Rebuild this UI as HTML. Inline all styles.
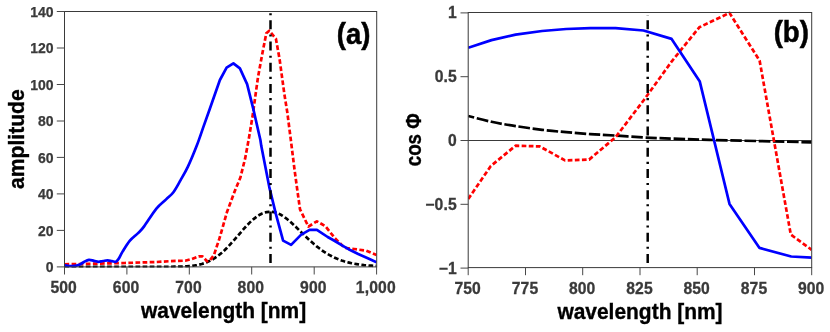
<!DOCTYPE html>
<html><head><meta charset="utf-8"><title>figure</title>
<style>html,body{margin:0;padding:0;background:#fff;}svg{display:block;will-change:transform;}text{font-family:"Liberation Sans",sans-serif;font-weight:bold;}.tl{font-size:15.7px;letter-spacing:0.15px;fill:#3a3a3a;stroke:#3a3a3a;stroke-width:0.3px;}.ts{font-size:14px;fill:#3a3a3a;stroke:#3a3a3a;stroke-width:0.25px;}.al{font-size:22px;fill:#000;stroke:#000;stroke-width:0.35px;}.pl{font-size:29px;fill:#000;stroke:#000;stroke-width:0.5px;}</style>
</head><body>
<svg width="830" height="332" viewBox="0 0 830 332">
<rect width="830" height="332" fill="#fff"/>
<defs><clipPath id="ca"><rect x="64.5" y="9.5" width="312.2" height="257.9"/></clipPath>
<clipPath id="cb"><rect x="468.2" y="10.5" width="343.5" height="257.1"/></clipPath></defs>
<g clip-path="url(#ca)" fill="none" stroke-linejoin="round">
<polyline points="64.5,266.8 66.9,266.8 69.4,266.8 71.9,266.8 74.4,266.8 76.9,266.8 79.4,266.8 81.9,266.8 84.4,266.8 86.9,266.8 89.4,266.8 91.9,266.8 94.4,266.8 96.9,266.8 99.4,266.8 101.9,266.8 104.4,266.8 106.9,266.8 109.4,266.8 111.9,266.8 114.4,266.8 116.9,266.8 119.4,266.8 121.9,266.8 124.4,266.8 126.9,266.8 129.4,266.8 131.9,266.8 134.4,266.8 136.9,266.8 139.4,266.8 141.9,266.8 144.4,266.8 146.9,266.8 149.4,266.8 151.9,266.8 154.3,266.8 156.8,266.8 159.3,266.8 161.8,266.8 164.3,266.8 166.8,266.8 169.3,266.8 171.8,266.8 174.3,266.7 176.8,266.7 179.3,266.6 181.8,266.6 184.3,266.5 186.8,266.3 189.3,266.1 191.8,265.9 194.3,265.5 196.8,265.1 199.3,264.6 201.8,264.0 204.3,263.2 206.8,262.2 209.3,261.1 211.8,259.8 214.3,258.4 216.8,256.7 219.3,254.8 221.8,252.7 224.3,250.5 226.8,248.0 229.3,245.4 231.8,242.7 234.3,239.9 236.8,237.0 239.3,234.1 241.8,231.2 244.2,228.4 246.7,225.7 249.2,223.1 251.7,220.7 254.2,218.6 256.7,216.7 259.2,215.0 261.7,213.7 264.2,212.7 266.7,212.1 269.2,211.8 271.7,211.8 274.2,212.1 276.7,212.9 279.2,213.9 281.7,215.3 284.2,216.9 286.7,218.8 289.2,220.8 291.7,223.0 294.2,225.3 296.7,227.7 299.2,230.2 301.7,232.7 304.2,235.1 306.7,237.5 309.2,239.9 311.7,242.1 314.2,244.3 316.7,246.4 319.2,248.3 321.7,250.2 324.2,251.9 326.7,253.5 329.2,254.9 331.7,256.2 334.1,257.5 336.6,258.6 339.1,259.6 341.6,260.5 344.1,261.3 346.6,262.0 349.1,262.6 351.6,263.2 354.1,263.7 356.6,264.1 359.1,264.5 361.6,264.8 364.1,265.1 366.6,265.3 369.1,265.6 371.6,265.7 374.1,265.9 376.6,266.0" stroke="#000" stroke-width="2.7" stroke-dasharray="4.7 2.4"/>
<polyline points="64.5,264.3 125.0,263.0 156.4,262.0 170.8,261.1 185.2,260.7 191.9,259.0 198.7,256.4 202.5,256.4 207.1,261.3 209.6,260.7 213.9,255.2 217.2,245.1 219.0,240.0 223.0,226.1 227.0,212.0 229.8,204.5 235.2,190.0 240.4,177.5 245.2,158.2 248.8,138.9 252.4,117.2 258.0,77.2 262.2,54.3 266.3,33.3 269.3,30.8 275.9,38.7 279.5,58.6 284.4,94.3 287.3,112.4 291.0,141.3 294.6,170.2 297.3,190.0 300.0,209.3 308.4,226.6 316.9,221.3 325.3,226.1 334.9,238.2 344.6,247.8 354.2,249.0 366.3,250.7 376.6,255.1" stroke="#f00" stroke-width="2.7" stroke-dasharray="4.7 2.4"/>
<path d="M64.5,265.4 C65.1,265.5 66.8,265.8 68.0,265.9 C69.2,266.0 70.6,266.2 72.0,266.1 C73.4,266.1 75.2,265.9 76.5,265.6 C77.8,265.3 78.8,265.0 80.0,264.4 C81.2,263.8 82.5,262.8 84.0,262.0 C85.5,261.2 87.2,260.0 88.9,259.8 C90.6,259.6 92.4,260.5 94.0,260.8 C95.6,261.1 97.1,261.8 98.6,261.8 C100.1,261.8 101.5,261.2 103.0,261.0 C104.5,260.8 106.0,260.4 107.5,260.4 C109.0,260.4 110.6,261.0 112.0,261.2 C113.4,261.4 114.8,262.2 115.9,261.8 C117.0,261.4 117.4,260.7 118.5,259.0 C119.6,257.3 120.8,254.5 122.7,251.4 C124.6,248.3 127.3,243.7 129.9,240.6 C132.5,237.5 135.9,235.3 138.3,232.9 C140.7,230.5 141.3,230.2 144.3,226.1 C147.3,222.0 152.8,213.0 156.4,208.6 C160.0,204.2 163.3,202.1 166.1,199.4 C168.9,196.7 171.0,195.4 173.4,192.2 C175.8,189.0 178.2,184.3 180.6,180.1 C183.0,175.9 185.1,172.6 187.8,166.9 C190.5,161.2 194.0,152.8 196.6,146.1 C199.2,139.4 201.3,132.9 203.4,126.9 C205.5,120.9 207.5,115.4 209.4,110.0 L214.9,94.3 L219.9,80.0 L226.6,67.7 L233.4,63.4 L239.9,68.4 L247.1,84.1 L253.1,108.2 L260.4,140.0 L261.3,146.1 L269.3,187.1 L275.9,214.1 L283.1,240.6 L291.1,244.9 L301.2,234.6 L309.6,229.8 L316.9,229.8 L327.7,237.0 L333.1,240.0 L343.7,246.3 L348.6,249.2 L358.2,254.0 L367.8,258.3 L376.6,262.2" stroke="#00f" stroke-width="2.7"/>
<line x1="270.5" y1="262.9" x2="270.5" y2="11.5" stroke="#000" stroke-width="2.5" stroke-dasharray="9 5.1 2.1 5.03"/>
</g>
<rect x="64.5" y="11.5" width="312.2" height="255.4" fill="none" stroke="#3a3a3a" stroke-width="1"/>
<line x1="56.8" y1="266.9" x2="64.5" y2="266.9" stroke="#484848" stroke-width="1"/>
<text class="ts" x="53.5" y="271.9" text-anchor="end">0</text>
<line x1="56.8" y1="230.4" x2="64.5" y2="230.4" stroke="#484848" stroke-width="1"/>
<text class="ts" x="53.5" y="236.0" text-anchor="end">20</text>
<line x1="56.8" y1="193.9" x2="64.5" y2="193.9" stroke="#484848" stroke-width="1"/>
<text class="ts" x="53.5" y="199.0" text-anchor="end">40</text>
<line x1="56.8" y1="157.4" x2="64.5" y2="157.4" stroke="#484848" stroke-width="1"/>
<text class="ts" x="53.5" y="162.6" text-anchor="end">60</text>
<line x1="56.8" y1="121.0" x2="64.5" y2="121.0" stroke="#484848" stroke-width="1"/>
<text class="ts" x="53.5" y="126.0" text-anchor="end">80</text>
<line x1="56.8" y1="84.5" x2="64.5" y2="84.5" stroke="#484848" stroke-width="1"/>
<text class="ts" x="53.5" y="89.6" text-anchor="end">100</text>
<line x1="56.8" y1="48.0" x2="64.5" y2="48.0" stroke="#484848" stroke-width="1"/>
<text class="ts" x="53.5" y="53.0" text-anchor="end">120</text>
<line x1="56.8" y1="11.5" x2="64.5" y2="11.5" stroke="#484848" stroke-width="1"/>
<text class="ts" x="53.5" y="16.7" text-anchor="end">140</text>
<line x1="64.5" y1="266.9" x2="64.5" y2="274.5" stroke="#484848" stroke-width="1"/>
<text class="tl" x="63.7" y="293.0" text-anchor="middle">500</text>
<line x1="126.9" y1="266.9" x2="126.9" y2="274.5" stroke="#484848" stroke-width="1"/>
<text class="tl" x="126.1" y="293.0" text-anchor="middle">600</text>
<line x1="189.3" y1="266.9" x2="189.3" y2="274.5" stroke="#484848" stroke-width="1"/>
<text class="tl" x="188.5" y="293.0" text-anchor="middle">700</text>
<line x1="251.7" y1="266.9" x2="251.7" y2="274.5" stroke="#484848" stroke-width="1"/>
<text class="tl" x="250.9" y="293.0" text-anchor="middle">800</text>
<line x1="314.2" y1="266.9" x2="314.2" y2="274.5" stroke="#484848" stroke-width="1"/>
<text class="tl" x="313.4" y="293.0" text-anchor="middle">900</text>
<line x1="376.6" y1="266.9" x2="376.6" y2="274.5" stroke="#484848" stroke-width="1"/>
<text class="tl" x="375.8" y="293.0" text-anchor="middle">1,000</text>
<text class="al" x="223.6" y="317.9" text-anchor="middle" textLength="165.2" lengthAdjust="spacingAndGlyphs">wavelength [nm]</text>
<text class="al" transform="translate(23.8,139.1) rotate(-90)" text-anchor="middle" textLength="99.6" lengthAdjust="spacingAndGlyphs">amplitude</text>
<text class="pl" x="353.6" y="43.5" text-anchor="middle" textLength="33.6" lengthAdjust="spacingAndGlyphs">(a)</text>
<line x1="468.2" y1="140.5" x2="811.7" y2="140.5" stroke="#3a3a3a" stroke-width="1"/>
<g clip-path="url(#cb)" fill="none" stroke-linejoin="round">
<path d="M468.2,116.0 C472.1,117.0 483.6,120.1 491.5,121.8 C499.4,123.5 507.2,124.8 515.6,126.1 C524.0,127.4 533.7,128.8 542.1,129.8 C550.5,130.8 558.2,131.5 566.2,132.2 C574.2,132.9 582.1,133.5 590.3,134.1 C598.5,134.7 606.8,135.0 615.6,135.6 C624.4,136.2 635.1,137.0 643.3,137.5 C651.5,138.0 653.2,138.0 665.0,138.4 C676.8,138.8 695.6,139.5 713.8,140.0 C732.0,140.5 757.7,141.0 774.0,141.4 C790.3,141.8 805.4,142.2 811.7,142.3" stroke="#000" stroke-width="2.7" stroke-dasharray="11.5 2.66" stroke-dashoffset="5.2"/>
<polyline points="468.2,199.0 490.8,166.0 515.6,145.7 539.7,146.4 565.0,160.4 589.1,159.6 615.6,137.2 643.5,100.5 671.8,61.3 699.3,27.3 729.5,12.9 759.6,60.6 790.8,234.6 811.7,249.8" stroke="#f00" stroke-width="2.7" stroke-dasharray="4.7 2.4"/>
<polyline points="468.2,47.8 491.5,40.1 515.6,34.6 542.1,31.0 566.2,29.0 590.3,28.1 615.6,28.1 643.5,30.5 671.6,38.9 699.8,81.6 729.5,203.9 759.5,247.9 791.2,256.5 811.7,257.6" stroke="#00f" stroke-width="2.7"/>
<line x1="647.7" y1="262.9" x2="647.7" y2="15.1" stroke="#000" stroke-width="2.5" stroke-dasharray="9 5.1 2.1 5.03"/>
</g>
<rect x="468.2" y="12.5" width="343.5" height="255.1" fill="none" stroke="#3a3a3a" stroke-width="1"/>
<line x1="460.5" y1="12.9" x2="468.2" y2="12.9" stroke="#484848" stroke-width="1"/>
<text class="tl" x="456.9" y="18.4" text-anchor="end">1</text>
<line x1="460.5" y1="76.7" x2="468.2" y2="76.7" stroke="#484848" stroke-width="1"/>
<text class="tl" x="456.9" y="82.2" text-anchor="end">0.5</text>
<line x1="460.5" y1="140.5" x2="468.2" y2="140.5" stroke="#484848" stroke-width="1"/>
<text class="tl" x="456.9" y="146.0" text-anchor="end">0</text>
<line x1="460.5" y1="204.3" x2="468.2" y2="204.3" stroke="#484848" stroke-width="1"/>
<text class="tl" x="456.9" y="209.8" text-anchor="end">−0.5</text>
<line x1="460.5" y1="268.1" x2="468.2" y2="268.1" stroke="#484848" stroke-width="1"/>
<text class="tl" x="456.9" y="273.6" text-anchor="end">−1</text>
<line x1="468.2" y1="267.6" x2="468.2" y2="275.2" stroke="#484848" stroke-width="1"/>
<text class="tl" x="467.7" y="294.0" text-anchor="middle">750</text>
<line x1="525.5" y1="267.6" x2="525.5" y2="275.2" stroke="#484848" stroke-width="1"/>
<text class="tl" x="525.0" y="294.0" text-anchor="middle">775</text>
<line x1="582.7" y1="267.6" x2="582.7" y2="275.2" stroke="#484848" stroke-width="1"/>
<text class="tl" x="582.2" y="294.0" text-anchor="middle">800</text>
<line x1="640.0" y1="267.6" x2="640.0" y2="275.2" stroke="#484848" stroke-width="1"/>
<text class="tl" x="639.5" y="294.0" text-anchor="middle">825</text>
<line x1="697.2" y1="267.6" x2="697.2" y2="275.2" stroke="#484848" stroke-width="1"/>
<text class="tl" x="696.7" y="294.0" text-anchor="middle">850</text>
<line x1="754.5" y1="267.6" x2="754.5" y2="275.2" stroke="#484848" stroke-width="1"/>
<text class="tl" x="754.0" y="294.0" text-anchor="middle">875</text>
<line x1="811.7" y1="267.6" x2="811.7" y2="275.2" stroke="#484848" stroke-width="1"/>
<text class="tl" x="811.2" y="294.0" text-anchor="middle">900</text>
<text class="al" x="640" y="318.6" text-anchor="middle" textLength="165.2" lengthAdjust="spacingAndGlyphs">wavelength [nm]</text>
<text class="al" transform="translate(420.5,139.8) rotate(-90)" text-anchor="middle" textLength="53" lengthAdjust="spacingAndGlyphs">cos Φ</text>
<text class="pl" x="791.3" y="41.8" text-anchor="middle" textLength="35.3" lengthAdjust="spacingAndGlyphs">(b)</text>
</svg></body></html>
